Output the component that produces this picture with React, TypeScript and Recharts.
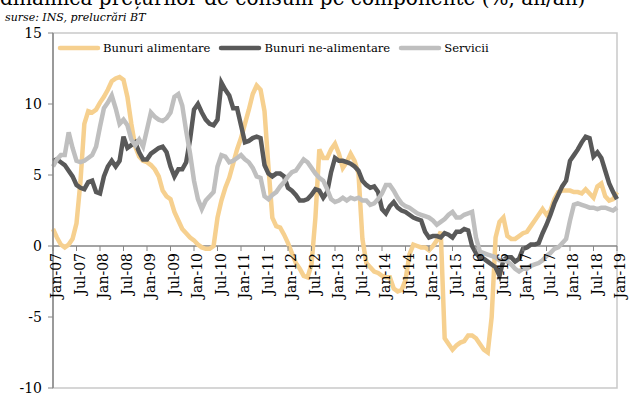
import { Legend, Line, LineChart, ReferenceArea, ReferenceLine, XAxis, YAxis } from 'recharts';

const MONTHS = ['Jan', 'Feb', 'Mar', 'Apr', 'May', 'Jun', 'Jul', 'Aug', 'Sep', 'Oct', 'Nov', 'Dec'];
const YEARS = ['07', '08', '09', '10', '11', '12', '13', '14', '15', '16', '17', '18', '19'];

// Jan-07 ... Jan-19, one point per month
const LABELS = YEARS.flatMap((y) => MONTHS.map((m) => `${m}-${y}`)).slice(0, 145);

const SERIES_NAMES = ['Bunuri alimentare', 'Bunuri ne-alimentare', 'Servicii'];
const SERIES_COLORS = ['#F6D08F', '#595959', '#BFBFBF'];
const Y_TICKS = [-10, -5, 0, 5, 10, 15];

// variatie anuala, %
const FOOD = [
  1.2, 0.6, 0.1, -0.1, 0.1, 0.5, 1.6, 4.5, 8.6, 9.5, 9.4, 9.6,
  10.1, 10.5, 11.0, 11.6, 11.8, 11.9, 11.7, 10.5, 8.6, 7.0, 6.3, 6.0,
  5.9, 5.7, 5.4, 4.9, 3.9, 3.5, 3.3, 2.4, 1.8, 1.2, 0.9, 0.6,
  0.4, 0.1, -0.1, -0.2, -0.2, 0.0, 2.0, 3.2, 4.1, 4.8, 5.8, 6.8,
  7.6, 8.6, 9.6, 10.7, 11.3, 11.0, 9.5, 5.6, 2.0, 1.4, 1.3, 0.8,
  0.2, -0.5, -1.2, -1.6, -2.1, -2.2, -1.3, 2.0, 6.8, 6.2, 6.2, 6.8,
  7.2, 6.5, 5.5, 5.9, 6.5, 6.0, 5.1, 0.5, -1.2, -1.5, -1.8, -1.9,
  -2.1, -2.2, -2.2, -3.0, -3.2, -3.1, -2.4, -0.6, 0.1, 0.0, -0.1, -0.1,
  -0.3, 0.0, 0.4, 1.0, -6.5, -6.9, -7.3, -7.0, -6.8, -6.7, -6.3, -6.3,
  -6.5, -6.9, -7.3, -7.5, -5.0, 0.6, 1.7, 2.0, 0.7, 0.5, 0.5, 0.7,
  0.9, 1.0, 1.4, 1.8, 2.2, 2.6, 2.2, 2.5, 3.3, 3.8, 3.9, 3.9,
  3.9, 3.8, 3.8, 3.7, 4.0, 3.7, 3.4, 4.2, 4.4, 3.5, 3.2, 3.3,
  3.8,
];

const NON_FOOD = [
  6.0, 6.1, 5.9, 5.7, 5.3, 4.9, 4.3, 4.1, 4.0, 4.5, 4.6, 3.8,
  3.7, 4.9, 5.6, 6.0, 5.6, 6.0, 7.7, 6.9, 7.1, 7.3, 6.6, 6.1,
  6.1, 6.5, 6.7, 6.9, 7.0, 6.6, 5.6, 4.9, 5.4, 5.4, 5.9, 7.5,
  9.6, 10.0, 9.4, 8.9, 8.6, 8.5, 8.9, 11.5, 11.0, 10.6, 9.7, 9.7,
  8.5, 7.3, 7.4, 7.6, 7.7, 7.6, 5.7, 5.1, 4.9, 5.1, 5.1, 4.9,
  4.1, 3.9, 3.6, 3.2, 3.2, 3.3, 3.6, 4.0, 3.9, 3.4, 3.8, 5.2,
  6.2, 6.0, 6.0, 5.9, 5.8, 5.6, 5.3, 4.6, 4.3, 4.1, 4.2, 3.8,
  2.6, 2.3, 2.8, 3.1, 2.7, 2.5, 2.4, 2.2, 2.0, 1.9, 1.8, 1.0,
  0.6, 0.7, 0.7, 0.6, 0.9, 0.8, 0.6, 1.0, 1.0, 1.2, 1.1, 0.0,
  -0.5, -0.8, -0.9, -1.1, -1.3, -1.5, -2.1, -1.0, -0.8, -0.8, -1.1, -0.9,
  -0.2, -0.1, 0.1, 0.1, 0.2, 0.9, 1.5, 2.2, 3.0, 3.6, 4.2, 4.6,
  6.0, 6.4, 6.8, 7.3, 7.7, 7.6, 6.3, 6.6, 6.2, 5.3, 4.4, 3.8,
  3.3,
];

const SERVICES = [
  5.6, 6.1, 6.4, 6.4, 8.0, 6.9, 6.0, 5.9, 6.0, 6.2, 6.4, 7.0,
  8.4, 9.7, 10.1, 10.6, 9.7, 8.6, 8.9, 8.5, 7.5, 7.1, 7.5, 7.0,
  8.2, 9.4, 9.1, 8.9, 8.8, 9.0, 9.4, 10.5, 10.7, 9.9, 8.1, 6.5,
  4.6, 3.3, 2.6, 3.2, 3.5, 3.8, 5.6, 6.4, 6.3, 5.9, 6.0, 6.2,
  6.4, 6.1, 5.9, 5.5, 4.9, 4.8, 3.5, 3.3, 3.6, 3.8, 4.2, 4.5,
  4.9, 5.2, 5.3, 5.7, 6.1, 5.9, 5.5, 5.1, 4.8, 4.6, 4.0, 3.3,
  3.1, 3.2, 3.4, 3.2, 3.4, 3.3, 3.4, 3.2, 3.2, 2.9, 3.0, 3.3,
  3.7, 4.3, 4.3, 3.9, 3.4, 3.0, 2.8, 2.7, 2.5, 2.3, 2.2, 2.1,
  2.0, 1.8, 1.5, 1.7, 1.9, 2.2, 2.4, 2.0, 2.0, 2.2, 2.3, 2.4,
  0.6, -0.4, -0.5, -0.6, -0.7, -0.8, -1.0, -1.0, -1.1, -1.3, -1.6, -1.8,
  -1.6, -1.6, -1.4, -1.3, -1.2, -1.0, -0.7, -0.5, -0.2, -0.1, 0.2, 0.5,
  1.8, 2.9, 3.0, 2.9, 2.8, 2.7, 2.7, 2.6, 2.7, 2.7, 2.6, 2.5,
  2.7,
];

const data = LABELS.map((label, i) => ({
  label,
  food: FOOD[i],
  nonFood: NON_FOOD[i],
  services: SERVICES[i],
}));

const W = 633;
const H = 397;
const MARGIN = { top: 33, right: 16, bottom: 8, left: 0 };
const Y_AXIS_W = 53;
const FONT = '"DejaVu Serif", serif';
const AXIS_COLOR = '#868686';
const BORDER_COLOR = '#c9c9c9';

// the category axis crosses the value axis at 0
const PLOT_H = H - MARGIN.top - MARGIN.bottom - 1;
const ZERO_Y = MARGIN.top + (PLOT_H * 15) / 25;

const MonthTick = ({ x, payload }: any) => (
  <g>
    <line x1={x} x2={x} y1={ZERO_Y} y2={ZERO_Y + 5} stroke={AXIS_COLOR} />
    <text
      transform={`translate(${x + 8}, ${ZERO_Y + 7}) rotate(-90)`}
      textAnchor='end'
      fontFamily={FONT}
      fontSize={14}
      fill='#000'>
      {payload.value}
    </text>
  </g>
);

const renderLegend = () => (
  <div style={{ display: 'flex', alignItems: 'center', fontFamily: FONT, fontSize: 11.6, color: '#000' }}>
    {SERIES_NAMES.map((name, i) => (
      <div key={name} style={{ display: 'flex', alignItems: 'center', marginRight: 8 }}>
        <svg width={44} height={8}>
          <line x1={3} x2={41} y1={4} y2={4} stroke={SERIES_COLORS[i]} strokeWidth={4.5} strokeLinecap='round' />
        </svg>
        <span style={{ marginLeft: 2 }}>{name}</span>
      </div>
    ))}
  </div>
);

export default function App() {
  return (
    <div style={{ position: 'absolute', left: 0, top: 0, width: W, height: H, background: '#fff', overflow: 'hidden' }}>
      <div
        style={{
          position: 'absolute',
          left: 0,
          top: -14,
          fontFamily: FONT,
          fontSize: 20,
          whiteSpace: 'nowrap',
          color: '#000',
        }}>
        dinamica prețurilor de consum pe componente (%, an/an)
      </div>
      <div
        style={{
          position: 'absolute',
          left: 5,
          top: 11,
          fontFamily: FONT,
          fontSize: 11,
          fontStyle: 'italic',
          color: '#000',
        }}>
        surse: INS, prelucrări BT
      </div>
      <LineChart width={W} height={H} data={data} margin={MARGIN}>
        <ReferenceArea
          x1={LABELS[0]}
          x2={LABELS[LABELS.length - 1]}
          y1={-10}
          y2={15}
          fill='none'
          stroke={BORDER_COLOR}
          strokeWidth={1.5}
        />
        <XAxis
          dataKey='label'
          interval={5}
          height={1}
          axisLine={false}
          tickLine={false}
          tick={MonthTick}
        />
        <YAxis
          width={Y_AXIS_W}
          domain={[-10, 15]}
          ticks={Y_TICKS}
          interval={0}
          axisLine={{ stroke: AXIS_COLOR, strokeWidth: 1.5 }}
          tickLine={{ stroke: AXIS_COLOR }}
          tickSize={5}
          tickMargin={6}
          tick={{ fontFamily: FONT, fontSize: 14, fill: '#000' }}
        />
        <ReferenceLine y={0} stroke={AXIS_COLOR} strokeWidth={1.5} />
        <Legend
          layout='horizontal'
          verticalAlign='middle'
          align='center'
          content={renderLegend}
          wrapperStyle={{ top: 41, left: 57, width: 'auto' }}
        />
        <Line
          dataKey='food'
          name={SERIES_NAMES[0]}
          stroke={SERIES_COLORS[0]}
          strokeWidth={4.5}
          dot={false}
          type='linear'
          isAnimationActive={false}
        />
        <Line
          dataKey='nonFood'
          name={SERIES_NAMES[1]}
          stroke={SERIES_COLORS[1]}
          strokeWidth={4.5}
          dot={false}
          type='linear'
          isAnimationActive={false}
        />
        <Line
          dataKey='services'
          name={SERIES_NAMES[2]}
          stroke={SERIES_COLORS[2]}
          strokeWidth={4.5}
          dot={false}
          type='linear'
          isAnimationActive={false}
        />
      </LineChart>
    </div>
  );
}
